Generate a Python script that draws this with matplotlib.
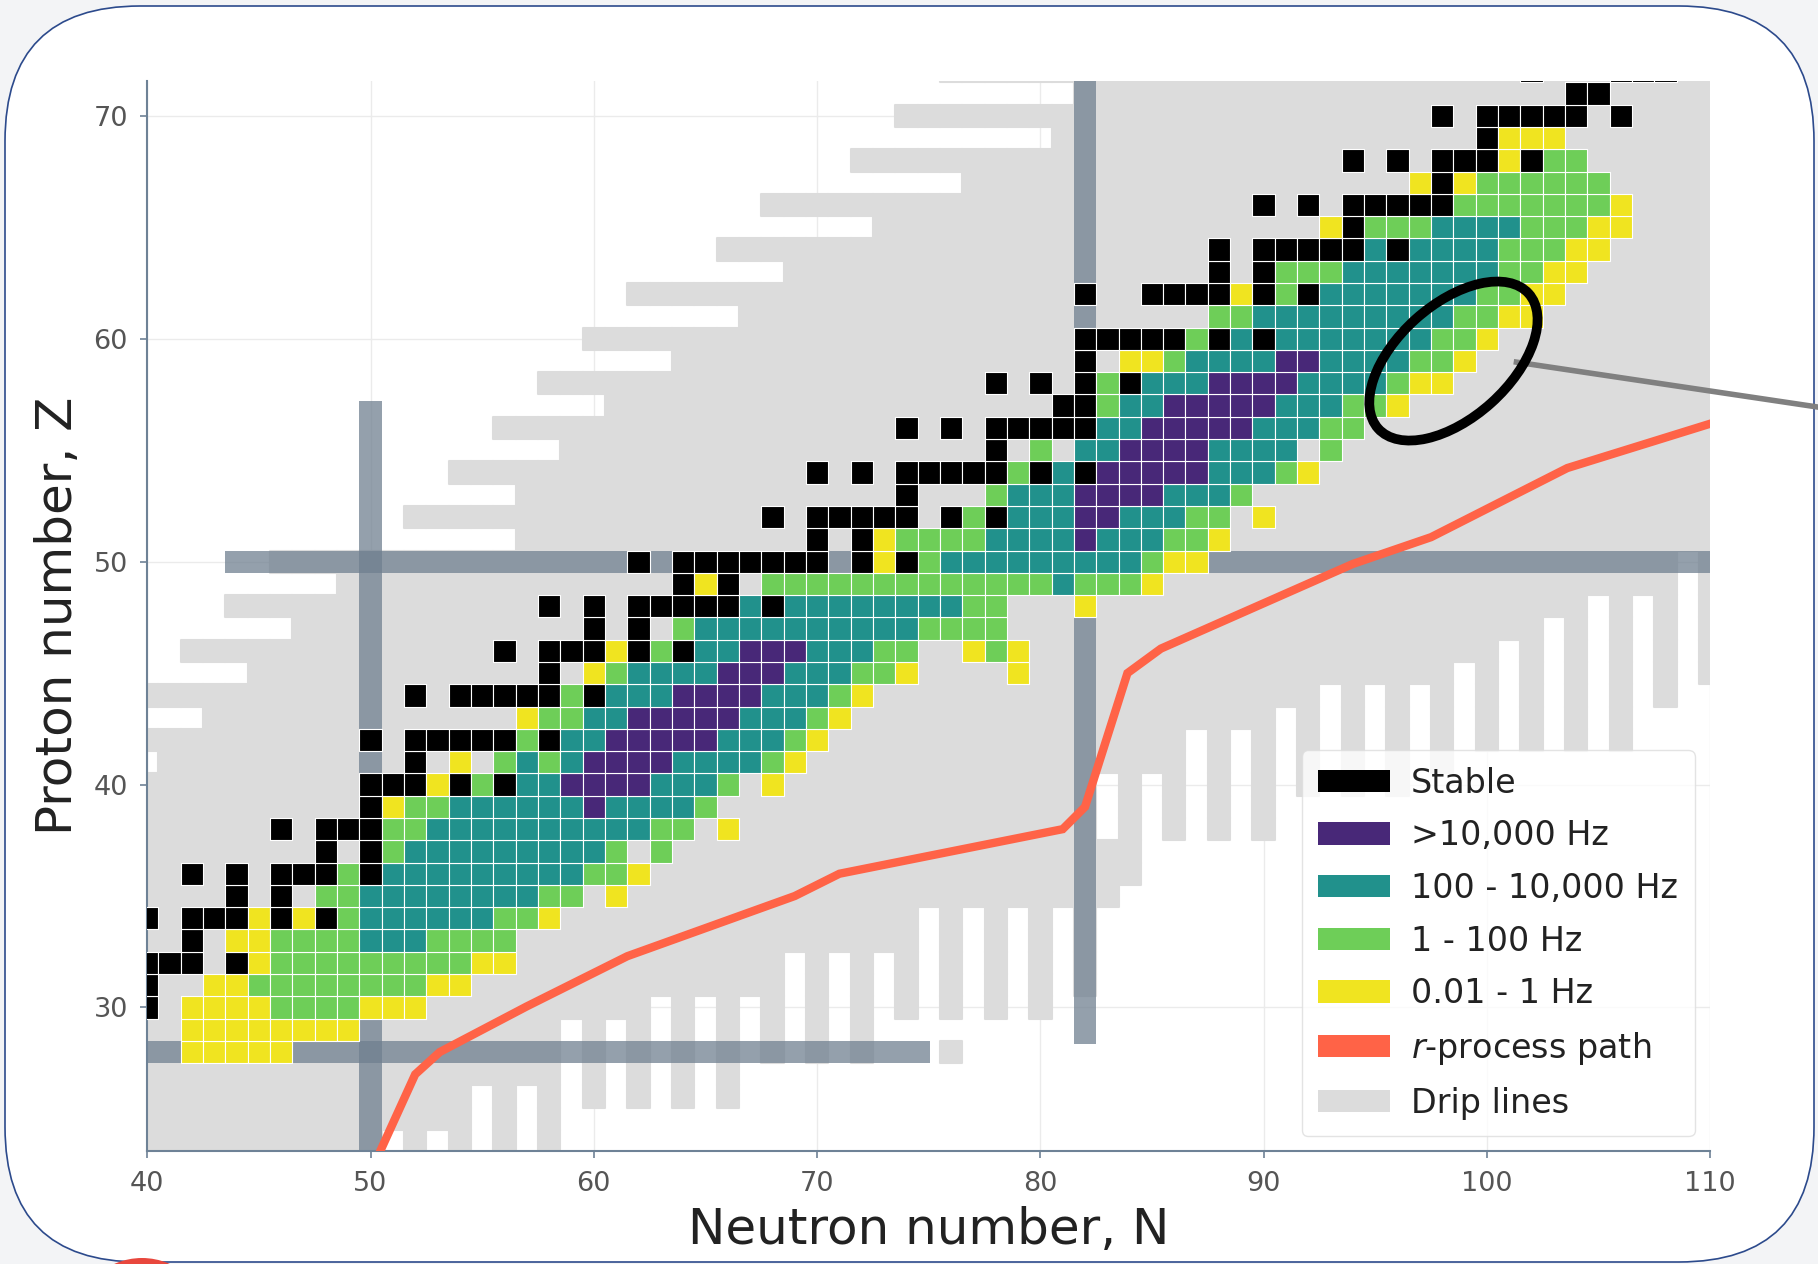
import numpy as np
import matplotlib
matplotlib.use("Agg")
import matplotlib.pyplot as plt
import matplotlib.transforms as mtransforms
from matplotlib.patches import Rectangle, Ellipse, FancyBboxPatch, Circle, Patch
from matplotlib.collections import PatchCollection

# ------------------------------------------------------------------
# Nuclides, one string per proton number Z, starting at neutron number first_n
# S = stable, P = >10,000 Hz, T = 100 - 10,000 Hz, G = 1 - 100 Hz,
# Y = 0.01 - 1 Hz, . = no entry
# ------------------------------------------------------------------
row_z = list(range(28, 73))
row_first_n = [42, 42, 40, 40, 40, 42, 40, 44, 42, 48, 46, 50, 50, 52, 50,
               57, 52, 58, 56, 60, 58, 64, 62, 70, 68, 74, 70, 78, 74, 81,
               78, 82, 82, 88, 82, 88, 88, 93, 90, 97, 94, 100, 98, 104, 102]
row_codes = [
    "YYYYY",                        # 28
    "YYYYYYYY",                     # 29
    "S.YYYYGGGGYYY",                # 30
    "S..YYGGGGGGGGYY",              # 31
    "SSS.SYGGGGGGGGGYY",            # 32
    "S.YYGGGGTTTGGGG",              # 33
    "S.SSSYSYSGTTTTTTGGY",          # 34
    "S.S.GGTTTTTTTTGG.Y",           # 35
    "S.S.SSSGSTTTTTTTTTGGY",        # 36
    "S.SGTTTTTTTTTG.G",             # 37
    "S.SSSGGTTTTTTTTTTGG.Y",        # 38
    "SYGGTTTTTTPTTTTG",             # 39
    "SSSYSGSTTPPPPTTTG.Y",          # 40
    "S.Y.GTGTPPPPTTTTGY",           # 41
    "S.SSSSSGSTTPPPPPTTTGY",        # 42
    "YGGTTPPPPPTTTGY",              # 43
    "S.SSSSSGSTTTPPPPTTTGY",        # 44
    "S.YGTTTTPPPTTTGGY....Y",       # 45
    "S.SSSYSGSTTPPPTTTGG..YGY",     # 46
    "S.S.GTTTTTTTTTTGGGG",          # 47
    "S.S.SSSSSTSTTTTTTTTGG...Y",    # 48
    "SYS.GGGGGGGGGGGGGTGGGY",       # 49
    "S.SSSSSSS.SYSGTTTTTTTTTGYY",   # 50
    "S.SYGGGGTTTTPTTTGGY",          # 51
    "S.SSSSS.SGSTTTPPTTTGG.Y",      # 52
    "S...GTTTPPPPTTTG",             # 53
    "S.S.SSSSSGSTSPPPPPTTTGY",      # 54
    "S.G.TTPPPPTTTT.G",             # 55
    "S.S.SSSSSTTPPPPPTTTGG",        # 56
    "SSGTTPPPPPTTTGGY",             # 57
    "S.S.SGSTTTPPPPTTTTGYY",        # 58
    "S.YYGTTTTPPTTTTGGY",           # 59
    "SSSSSGSTSTTTTTTTGGY",          # 60
    "GGTTTTTTTTTGGYY",              # 61
    "S..SSSSYSGSTTTTTTTGGYY",       # 62
    "S.SGGGTTTTTTTGGYY",            # 63
    "S.SSSSSTSTTTTGGGYY",           # 64
    "YSGGGTTTTGGGYY",               # 65
    "S.S.SSSSSGGGGGGGY",            # 66
    "YSYGGGGGG",                    # 67
    "S.S.SSSYSGG",                  # 68
    "SYYY",                         # 69
    "S.SSSSS.S",                    # 70
    "SS",                           # 71
    "S...SSS",                      # 72
]

categories = ["S", "P", "T", "G", "Y"]
category_labels = ["Stable", ">10,000 Hz", "100 - 10,000 Hz", "1 - 100 Hz", "0.01 - 1 Hz"]
category_colors = ["black", "#482878", "#21918c", "#6ece58", "#f0e420"]

# proton drip line: lightest bound N for each Z (Z <= 40 bound across the view)
pdrip_z = list(range(41, 73))
pdrip_nmin = [41, 38, 43, 38, 45, 42, 47, 44, 49, 46, 57, 52, 57, 54, 59, 56,
              61, 58, 64, 60, 67, 62, 69, 66, 73, 68, 77, 72, 81, 74, 82, 76]

# neutron drip line: lowest bound Z for each N (N <= 50 bound across the view)
ndrip_n = list(range(51, 111))
ndrip_zmin = [25, 22, 25, 22, 27, 22, 27, 22, 30, 26, 30, 26, 31, 26, 31, 26,
              31, 28, 33, 28, 33, 28, 33, 30, 35, 30, 35, 30, 35, 30, 35, 31,
              41, 36, 41, 38, 43, 38, 43, 38, 44, 40, 45, 40, 45, 40, 45, 41,
              46, 42, 47, 42, 48, 42, 49, 42, 49, 44, 51, 45]
extra_bound = [(83, 35), (83, 36), (83, 37), (76, 28)]

# magic-number bands: (centre, start, stop)
magic_n_bands = [(50, 22.0, 57.2), (82, 28.35, 73.0)]
magic_z_bands = [(28, 39.0, 75.05), (50, 43.5, 112.0)]

# r-process path
rp_n = [50.0, 52.0, 53.1, 57.0, 61.5, 69.0, 71.0, 81.0, 82.0, 83.9, 85.4, 94.0, 97.5, 103.6, 111.0]
rp_z = [22.6, 27.0, 28.0, 30.05, 32.3, 35.0, 36.0, 38.0, 39.0, 45.0, 46.1, 49.9, 51.1, 54.2, 56.5]

drip_color = "#dcdcdc"
band_color = "slategray"
rp_color = "#ff6347"
spine_color = "#6e8296"

# ------------------------------------------------------------------
fig = plt.figure(figsize=(18.18, 12.64), dpi=100, facecolor="#f3f4f6")

# rounded white card behind the plot (pixel coordinates)
card = FancyBboxPatch((5, 2), 1809, 1256, boxstyle="round,pad=0,rounding_size=135",
                      transform=mtransforms.IdentityTransform(),
                      facecolor="white", edgecolor="#2c4a8c", linewidth=1.2, zorder=-2)
fig.add_artist(card)
fig.add_artist(Circle((142, -62), 68, transform=mtransforms.IdentityTransform(),
                      facecolor="#e8473d", edgecolor="none", zorder=-1))

ax = fig.add_axes([0.081, 0.0892, 0.8597, 0.8470])
ax.set_facecolor("white")
ax.set_xlim(40, 110)
ax.set_ylim(23.55, 71.58)

# --- bound nuclei between the drip lines
nmin = dict(zip(pdrip_z, pdrip_nmin))
zmin = dict(zip(ndrip_n, ndrip_zmin))
drip_cells = []
for z in range(21, 74):
    for n in range(36, 113):
        n_lo = nmin.get(z, 36 if z < 41 else 999)
        z_lo = zmin.get(n, 20 if n < 51 else 99)
        if n >= n_lo and z >= z_lo:
            drip_cells.append(Rectangle((n - 0.5, z - 0.5), 1, 1))
for n, z in extra_bound:
    drip_cells.append(Rectangle((n - 0.5, z - 0.5), 1, 1))
ax.add_collection(PatchCollection(drip_cells, facecolor=drip_color, edgecolor=drip_color,
                                  linewidth=1.5, zorder=1))

# --- magic number bands
for n0, z0, z1 in magic_n_bands:
    ax.add_patch(Rectangle((n0 - 0.5, z0), 1, z1 - z0, facecolor=band_color,
                           edgecolor="none", alpha=0.75, zorder=2))
for z0, n0, n1 in magic_z_bands:
    ax.add_patch(Rectangle((n0, z0 - 0.5), n1 - n0, 1, facecolor=band_color,
                           edgecolor="none", alpha=0.75, zorder=2))

# --- nuclide cells
cells, colors = [], []
for z, n0, codes in zip(row_z, row_first_n, row_codes):
    for i, c in enumerate(codes):
        if c == ".":
            continue
        cells.append(Rectangle((n0 + i - 0.5, z - 0.5), 1, 1))
        colors.append(category_colors[categories.index(c)])
ax.add_collection(PatchCollection(cells, facecolor=colors, edgecolor="white",
                                  linewidth=0.8, zorder=3))

# --- r-process path
ax.plot(rp_n, rp_z, color=rp_color, lw=6, zorder=4, solid_joinstyle="miter")

# --- highlighted region and pointer
ax.plot([101.2, 115.4], [58.97, 56.85], color="#808080", lw=4, zorder=5,
        clip_on=False, solid_capstyle="butt")
ax.add_patch(Ellipse((98.5, 59.0), 9.06, 5.06, angle=42, fill=False,
                     edgecolor="black", linewidth=7, zorder=6))

# --- axes styling
ax.set_xticks(range(40, 111, 10))
ax.set_yticks(range(30, 71, 10))
ax.grid(True, color="#ebebeb", linewidth=1)
ax.set_axisbelow(True)
for side in ["top", "right"]:
    ax.spines[side].set_visible(False)
for side in ["left", "bottom"]:
    ax.spines[side].set_color(spine_color)
    ax.spines[side].set_linewidth(1.5)
ax.tick_params(direction="out", length=5, width=1.2, color=spine_color,
               labelsize=19.5, labelcolor="#555555", pad=9)
ax.set_xlabel("Neutron number, N", fontsize=36, color="#222222", labelpad=7)
ax.set_ylabel("Proton number, Z", fontsize=36, color="#222222", labelpad=8)

# --- legend
handles = [Patch(facecolor=c, edgecolor="none", label=l)
           for c, l in zip(category_colors, category_labels)]
handles.append(Patch(facecolor=rp_color, edgecolor="none", label="$r$-process path"))
handles.append(Patch(facecolor=drip_color, edgecolor="none", label="Drip lines"))
leg = ax.legend(handles=handles, loc="lower right", bbox_to_anchor=(0.99, 0.014),
                borderaxespad=0, fontsize=24, framealpha=0.8, edgecolor="#dddddd",
                handlelength=2.16, handleheight=0.65, handletextpad=0.62,
                labelspacing=0.59, borderpad=0.5, fancybox=True)
leg.set_zorder(10)
for t in leg.get_texts():
    t.set_color("#222222")

fig.savefig("out.png", dpi=100, facecolor=fig.get_facecolor())
